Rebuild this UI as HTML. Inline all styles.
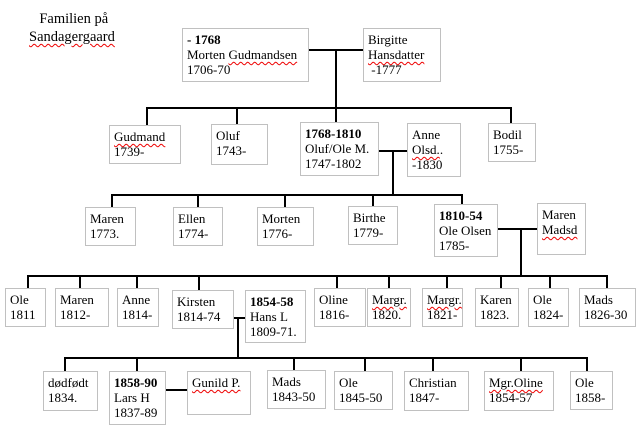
<!DOCTYPE html>
<html><head><meta charset="utf-8"><style>
body{margin:0;width:636px;height:433px;background:#fff;position:relative;overflow:hidden;font-family:"Liberation Serif",serif;font-size:13px;color:#000}
.b{position:absolute;border:1.5px solid #c0c0c0;box-sizing:border-box;padding:3px 0 0 4px;line-height:15px;background:#fff;white-space:nowrap}
.h{position:absolute;height:1.5px;background:#000}
.v{position:absolute;width:1.5px;background:#000}
.w{text-decoration:underline wavy #e00;text-decoration-thickness:1px;text-underline-offset:2px}
b{font-weight:bold}
</style></head><body>
<div style="position:absolute;left:29px;top:10px;font-size:14.5px;line-height:18px;text-align:center">&nbsp;Familien på<br><span class="w">Sandagergaard</span></div>

<div class="h" style="left:308px;top:49px;width:56px"></div>
<div class="v" style="left:335px;top:49px;height:58px"></div>
<div class="h" style="left:146px;top:107px;width:365px"></div>
<div class="v" style="left:146px;top:107px;height:18px"></div>
<div class="v" style="left:236px;top:107px;height:18px"></div>
<div class="v" style="left:335px;top:107px;height:16px"></div>
<div class="v" style="left:510px;top:107px;height:16px"></div>
<div class="h" style="left:378px;top:150px;width:30px"></div>
<div class="v" style="left:392px;top:150px;height:44px"></div>
<div class="h" style="left:111px;top:194px;width:351px"></div>
<div class="v" style="left:111px;top:194px;height:14px"></div>
<div class="v" style="left:197px;top:194px;height:14px"></div>
<div class="v" style="left:284px;top:194px;height:14px"></div>
<div class="v" style="left:372px;top:194px;height:12px"></div>
<div class="v" style="left:461px;top:194px;height:11px"></div>
<div class="h" style="left:497px;top:228px;width:40px"></div>
<div class="v" style="left:520px;top:228px;height:47px"></div>
<div class="h" style="left:27px;top:275px;width:580px"></div>
<div class="v" style="left:27px;top:275px;height:14px"></div>
<div class="v" style="left:79px;top:275px;height:14px"></div>
<div class="v" style="left:136px;top:275px;height:14px"></div>
<div class="v" style="left:198px;top:275px;height:15px"></div>
<div class="v" style="left:336px;top:275px;height:14px"></div>
<div class="v" style="left:388px;top:275px;height:14px"></div>
<div class="v" style="left:446px;top:275px;height:14px"></div>
<div class="v" style="left:500px;top:275px;height:14px"></div>
<div class="v" style="left:549px;top:275px;height:14px"></div>
<div class="v" style="left:606px;top:275px;height:14px"></div>
<div class="h" style="left:230px;top:317px;width:15px"></div>
<div class="v" style="left:237px;top:317px;height:40px"></div>
<div class="h" style="left:64px;top:357px;width:523px"></div>
<div class="v" style="left:64px;top:357px;height:14px"></div>
<div class="v" style="left:136px;top:357px;height:14px"></div>
<div class="v" style="left:293px;top:357px;height:14px"></div>
<div class="v" style="left:364px;top:357px;height:14px"></div>
<div class="v" style="left:432px;top:357px;height:14px"></div>
<div class="v" style="left:520px;top:357px;height:14px"></div>
<div class="v" style="left:586px;top:357px;height:14px"></div>
<div class="h" style="left:166px;top:389px;width:22px"></div>

<div class="b" style="left:182px;top:28px;width:127px;height:54px"><b>- 1768</b><br>Morten <span class="w">Gudmandsen</span><br>1706-70</div>
<div class="b" style="left:363px;top:28px;width:78px;height:54px">Birgitte<br><span class="w">Hansdatter</span><br>&nbsp;-1777</div>

<div class="b" style="left:109px;top:125px;width:72px;height:39px"><span class="w">Gudmand</span><br>1739-</div>
<div class="b" style="left:211px;top:124px;width:57px;height:41px">Oluf<br>1743-</div>
<div class="b" style="left:300px;top:122px;width:79px;height:54px"><b>1768-1810</b><br>Oluf/Ole M.<br>1747-1802</div>
<div class="b" style="left:407px;top:123px;width:54px;height:54px">Anne<br><span class="w">Olsd.</span>.<br>-1830</div>
<div class="b" style="left:488px;top:123px;width:48px;height:39px">Bodil<br>1755-</div>

<div class="b" style="left:85px;top:207px;width:51px;height:39px">Maren<br>1773.</div>
<div class="b" style="left:173px;top:207px;width:50px;height:39px">Ellen<br>1774-</div>
<div class="b" style="left:257px;top:207px;width:57px;height:39px">Morten<br>1776-</div>
<div class="b" style="left:348px;top:206px;width:50px;height:39px">Birthe<br>1779-</div>
<div class="b" style="left:434px;top:204px;width:64px;height:53px"><b>1810-54</b><br>Ole Olsen<br>1785-</div>
<div class="b" style="left:537px;top:203px;width:49px;height:52px">Maren<br><span class="w">Madsd</span></div>

<div class="b" style="left:5px;top:288px;width:41px;height:39px">Ole<br>1811</div>
<div class="b" style="left:55px;top:288px;width:54px;height:39px">Maren<br>1812-</div>
<div class="b" style="left:117px;top:288px;width:42px;height:39px">Anne<br>1814-</div>
<div class="b" style="left:172px;top:290px;width:62px;height:39px">Kirsten<br>1814-74</div>
<div class="b" style="left:245px;top:290px;width:61px;height:53px"><b>1854-58</b><br>Hans L<br>1809-71.</div>
<div class="b" style="left:314px;top:288px;width:52px;height:39px">Oline<br>1816-</div>
<div class="b" style="left:367px;top:288px;width:44px;height:39px"><span class="w">Margr.</span><br>1820.</div>
<div class="b" style="left:422px;top:288px;width:41px;height:39px"><span class="w">Margr.</span><br>1821-</div>
<div class="b" style="left:475px;top:288px;width:44px;height:39px">Karen<br>1823.</div>
<div class="b" style="left:528px;top:288px;width:41px;height:39px">Ole<br>1824-</div>
<div class="b" style="left:579px;top:288px;width:57px;height:39px">Mads<br>1826-30</div>

<div class="b" style="left:43px;top:371px;width:55px;height:40px">dødfødt<br>1834.</div>
<div class="b" style="left:109px;top:371px;width:57px;height:54px"><b>1858-90</b><br>Lars H<br>1837-89</div>
<div class="b" style="left:187px;top:371px;width:64px;height:44px"><span class="w">Gunild P.</span></div>
<div class="b" style="left:267px;top:370px;width:59px;height:39px">Mads<br>1843-50</div>
<div class="b" style="left:334px;top:371px;width:59px;height:39px">Ole<br>1845-50</div>
<div class="b" style="left:404px;top:371px;width:65px;height:40px">Christian<br>1847-</div>
<div class="b" style="left:484px;top:371px;width:70px;height:40px"><span class="w">Mgr.Oline</span><br>1854-57</div>
<div class="b" style="left:570px;top:371px;width:43px;height:39px">Ole<br>1858-</div>
</body></html>
